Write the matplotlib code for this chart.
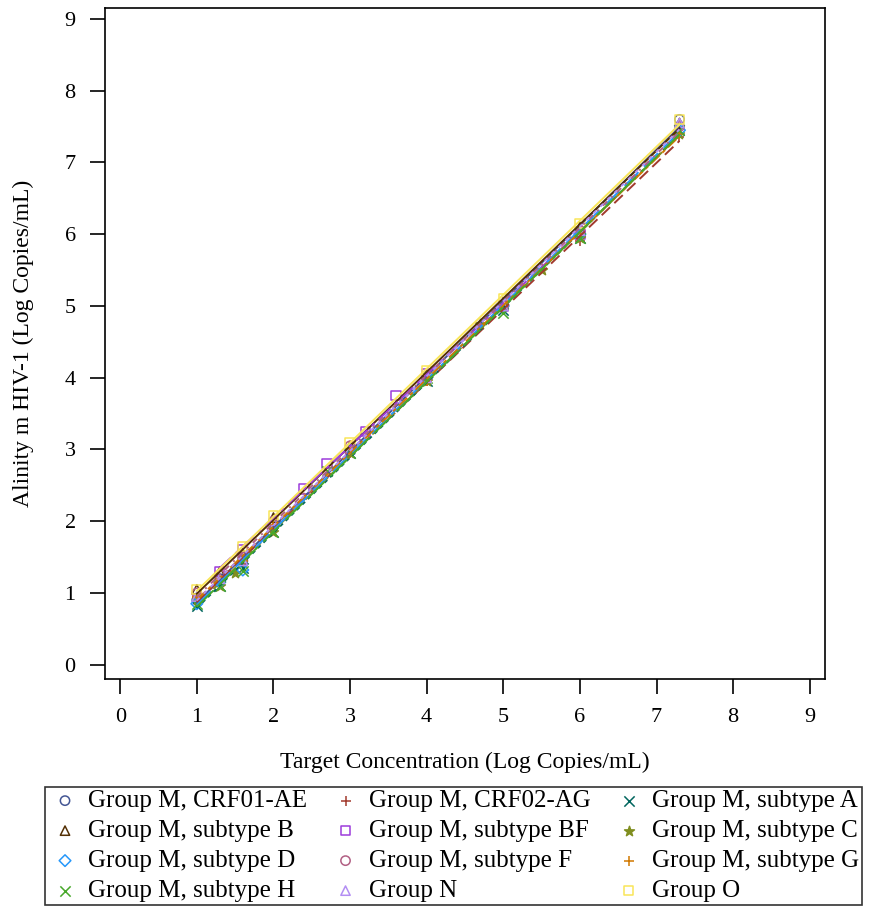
import matplotlib.pyplot as plt
import numpy as np

plt.rcParams['font.family'] = ['Liberation Serif', 'DejaVu Serif']

# series: name, colour, marker, x (target), y (measured)
names = ['Group M, CRF01-AE', 'Group M, CRF02-AG', 'Group M, subtype A',
         'Group M, subtype B', 'Group M, subtype BF', 'Group M, subtype C',
         'Group M, subtype D', 'Group M, subtype F', 'Group M, subtype G',
         'Group M, subtype H', 'Group N', 'Group O']
colors = ['#445694', '#A23A2E', '#01665E', '#543005', '#9D3CDB', '#7F8E1F',
          '#2597FA', '#B26084', '#D17800', '#47A82A', '#B38EF3', '#F9E559']
markers = ['o', '+', 'x', '^', 's', '*', 'D', 'o', '+', 'x', '^', 's']
styles = ['-', (0, (6, 3)), (0, (2, 2)), '-', (0, (8, 3, 2, 3)), (0, (4, 2)),
          (0, (10, 4)), (0, (3, 3, 1, 3)), (0, (6, 2, 2, 2)), (0, (12, 4)),
          (0, (2, 3)), '-']

x_vals = [
    [1.0, 1.3, 1.6, 2.0, 3.0, 4.0, 5.0, 6.0, 7.3],
    [1.0, 1.3, 1.6, 2.0, 3.0, 4.0, 5.0, 6.0, 7.3],
    [1.0, 1.3, 1.6, 2.0, 3.0, 4.0, 5.0, 6.0, 7.3],
    [1.0, 1.3, 1.6, 2.0, 3.0, 4.0, 5.0, 6.0, 7.3],
    [1.3, 1.6, 2.4, 2.7, 3.2, 3.6, 4.0, 5.0, 6.0],
    [1.0, 1.3, 1.5, 2.0, 3.0, 4.0, 4.7, 5.5, 6.0, 7.3],
    [1.0, 1.3, 1.6, 2.0, 3.0, 4.0, 5.0, 6.0, 7.3],
    [1.0, 1.3, 1.6, 2.0, 3.0, 4.0, 5.0, 6.0, 7.3],
    [1.0, 1.3, 1.6, 2.0, 3.0, 4.0, 5.0, 6.0, 7.3],
    [1.0, 1.3, 1.6, 2.0, 2.7, 3.0, 4.0, 5.0, 6.0, 7.3],
    [1.0, 1.3, 1.6, 2.0, 3.0, 4.0, 5.0, 6.0, 7.3],
    [1.0, 1.6, 2.0, 3.0, 4.0, 5.0, 6.0, 7.3],
]
y_vals = [
    [0.90, 1.20, 1.45, 1.95, 3.00, 4.00, 5.00, 6.05, 7.60],
    [0.95, 1.15, 1.40, 1.90, 2.95, 3.95, 4.95, 5.90, 7.35],
    [0.82, 1.10, 1.35, 1.85, 2.95, 3.95, 4.95, 5.95, 7.45],
    [1.05, 1.30, 1.55, 2.05, 3.05, 4.05, 5.05, 6.10, 7.55],
    [1.30, 1.60, 2.45, 2.80, 3.25, 3.75, 4.05, 5.00, 6.00],
    [0.90, 1.10, 1.28, 1.85, 2.95, 3.95, 4.75, 5.50, 5.95, 7.40],
    [0.85, 1.15, 1.32, 1.95, 3.00, 4.00, 5.00, 6.00, 7.45],
    [1.00, 1.25, 1.50, 2.00, 3.05, 4.00, 5.00, 6.05, 7.50],
    [0.95, 1.20, 1.45, 1.95, 3.00, 3.95, 5.00, 6.00, 7.40],
    [0.85, 1.10, 1.30, 1.85, 2.70, 2.95, 4.00, 4.90, 5.95, 7.45],
    [0.95, 1.20, 1.45, 2.00, 3.00, 4.00, 5.00, 6.05, 7.55],
    [1.05, 1.65, 2.08, 3.10, 4.10, 5.10, 6.15, 7.60],
]

fig = plt.figure(figsize=(8.74, 9.1), dpi=100)
ax = fig.add_axes([0.120, 0.2538, 0.824, 0.7372])

handles = []
for name, c, m, ls, xs, ys in zip(names, colors, markers, styles, x_vals, y_vals):
    xs = np.array(xs)
    ys = np.array(ys)
    slope, icpt = np.polyfit(xs, ys, 1)
    xl = np.array([xs.min(), xs.max()])
    ax.plot(xl, slope * xl + icpt, color=c, linestyle=ls, linewidth=1.4)
    if m in ('+', 'x', '*'):
        h = ax.scatter(xs, ys, marker=m, color=c, s=55, linewidths=1.1, label=name)
    else:
        h = ax.scatter(xs, ys, marker=m, facecolors='none', edgecolors=c,
                       s=45 if m != 'D' else 35, linewidths=1.1, label=name)
    handles.append(h)

ax.set_xlim(-0.2, 9.2)
ax.set_ylim(-0.2, 9.15)
ax.set_xticks(range(10))
ax.set_yticks(range(10))
ax.tick_params(direction='out', length=11, width=1.2, labelsize=16, pad=10)
for s in ax.spines.values():
    s.set_linewidth(1.2)
ax.set_xlabel('Target Concentration (Log Copies/mL)', fontsize=17, labelpad=18)
ax.set_ylabel('Alinity m HIV-1 (Log Copies/mL)', fontsize=17, labelpad=22)

# legend is filled row-wise in the reference, matplotlib fills column-wise
order = [0, 3, 6, 9, 1, 4, 7, 10, 2, 5, 8, 11]
leg = fig.legend([handles[i] for i in order], [names[i] for i in order],
                 ncol=3, loc='upper left', bbox_to_anchor=(0.0515, 0.1355),
                 fontsize=18, frameon=True, fancybox=False,
                 edgecolor='black', handletextpad=0.25, columnspacing=0.85,
                 borderaxespad=0, labelspacing=0.3, handlelength=1.36,
                 borderpad=0.12)
leg.get_frame().set_linewidth(1.2)

plt.savefig('out.png', dpi=100)
